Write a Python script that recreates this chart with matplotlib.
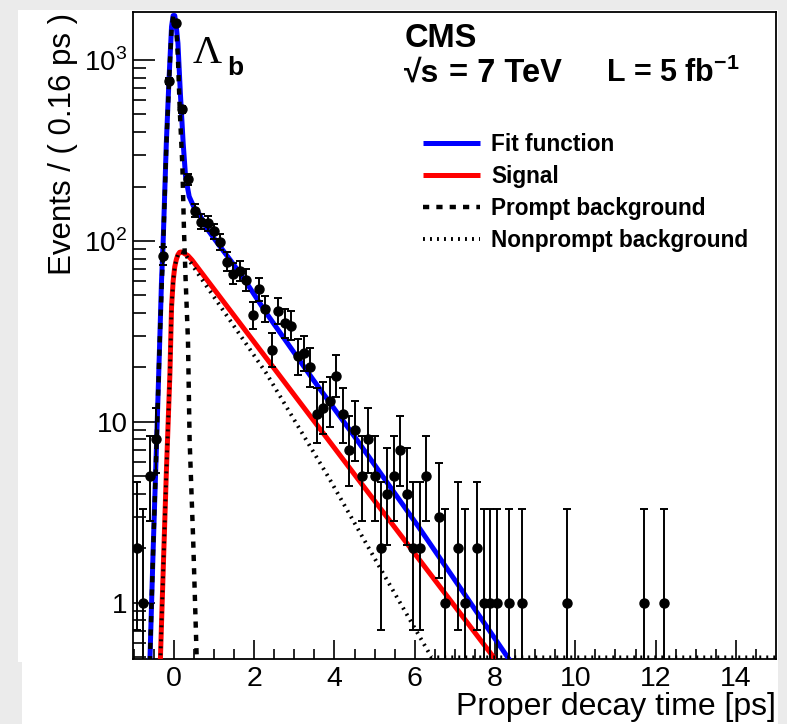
import matplotlib.pyplot as plt
import matplotlib.patches as mpatches
from matplotlib.ticker import FixedLocator, NullFormatter

plt.rcParams['font.family'] = ['Liberation Sans', 'DejaVu Sans']
plt.rcParams['mathtext.fontset'] = 'custom'
plt.rcParams['mathtext.rm'] = 'Liberation Sans'
plt.rcParams['mathtext.bf'] = 'Liberation Sans:bold'

# binned data (bin width 0.16 ps), Poisson error bars
t_data = [-0.92, -0.76, -0.60, -0.44, -0.28, -0.12,
          0.04, 0.20, 0.36, 0.52, 0.68, 0.84, 1.00, 1.16, 1.32, 1.48, 1.64,
          1.80, 1.96, 2.12, 2.28, 2.44, 2.60, 2.76, 2.92, 3.08, 3.24, 3.40,
          3.56, 3.72, 3.88, 4.04, 4.20, 4.36, 4.52, 4.68, 4.84, 5.00, 5.16,
          5.32, 5.48, 5.64, 5.80, 5.96, 6.12, 6.28,
          6.60, 6.76, 7.08, 7.24, 7.56, 7.72, 7.88, 8.04, 8.36, 8.68, 9.80,
          11.72, 12.20]
n_data = [2, 1, 5, 8, 83, 765,
          1607, 534, 219, 147, 128, 125, 113, 99, 77, 66, 68,
          61, 39, 54, 42, 25, 41, 35, 34, 23, 24, 20,
          11, 12, 13, 18, 11, 7, 9, 5, 8, 5, 2,
          4, 5, 7, 4, 2, 2, 5,
          3, 1, 2, 1, 2, 1, 1, 1, 1, 1, 1,
          1, 1]
err_lo = [1.29, 0.83, 2.16, 2.77, 9.1, 27.7,
          40.1, 23.1, 14.8, 12.1, 11.3, 11.2, 10.6, 9.9, 8.8, 8.1, 8.2,
          7.8, 6.2, 7.3, 6.5, 5.0, 6.4, 5.9, 5.8, 4.8, 4.9, 4.4,
          3.3, 3.4, 3.6, 4.2, 3.3, 2.6, 2.9, 2.16, 2.77, 2.16, 1.29,
          1.91, 2.16, 2.6, 1.91, 1.29, 1.29, 2.16,
          1.63, 0.83, 1.29, 0.83, 1.29, 0.83, 0.83, 0.83, 0.83, 0.83, 0.83,
          0.83, 0.83]
err_hi = [2.64, 2.30, 3.38, 3.95, 10.1, 28.7,
          41.1, 24.1, 15.8, 13.1, 12.3, 12.2, 11.6, 10.9, 9.8, 9.1, 9.3,
          8.8, 7.3, 8.4, 7.5, 6.1, 7.4, 7.0, 6.9, 5.9, 6.0, 5.5,
          4.4, 4.6, 4.7, 5.3, 4.4, 3.8, 4.1, 3.38, 3.95, 3.38, 2.64,
          3.16, 3.38, 3.8, 3.16, 2.64, 2.64, 3.38,
          2.92, 2.30, 2.64, 2.30, 2.64, 2.30, 2.30, 2.30, 2.30, 2.30, 2.30,
          2.30, 2.30]

# fit curves
fit_t = [-0.60, -0.52, -0.43, -0.35, -0.31, -0.27, -0.19, -0.12, -0.06, -0.02,
         0.02, 0.06, 0.10, 0.16, 0.23, 0.29, 0.38, 0.52, 0.64, 0.81, 1.09,
         1.47, 1.76, 2.30, 3.47, 4.50, 6.09, 8.40]
fit_y = [0.47, 1.9, 8, 30, 60, 97, 347, 809, 1528, 1760,
         1760, 1520, 1236, 655, 347, 227, 176, 150, 140, 118, 97,
         75, 61, 40, 17.1, 8.3, 2.64, 0.47]

sig_t = [-0.34, -0.27, -0.19, -0.10, -0.06, -0.02, 0.02, 0.06, 0.10, 0.14,
         0.18, 0.22, 0.27, 0.35, 0.45, 0.64, 2.72, 4.66, 8.06]
sig_y = [0.47, 1.46, 5.2, 18.6, 43, 60, 72, 79, 84, 86.5,
         87, 86.5, 85, 83, 78.5, 69, 17, 4.6, 0.47]

prompt_t = [-0.60, -0.52, -0.43, -0.35, -0.27, -0.19, -0.12, -0.06, -0.02, 0.02,
            0.06, 0.10, 0.145, 0.21, 0.25, 0.29, 0.35, 0.39, 0.48, 0.57]
prompt_y = [0.47, 1.9, 8, 30, 92, 335, 780, 1480, 1740, 1740,
            1480, 1020, 530, 260, 115, 62, 28, 8, 2.2, 0.47]

# nonprompt curve; past ~6.4 ps it runs along the axis floor
nonprompt_t = [-0.34, -0.27, -0.19, -0.10, -0.06, -0.02, 0.02, 0.06, 0.10, 0.14,
               0.18, 0.22, 0.27, 0.64, 2.30, 3.84, 5.21, 6.42, 15.0]
nonprompt_y = [0.47, 1.46, 5.2, 18.6, 43, 60, 72, 79, 84, 86.5,
               87, 86.5, 85, 64, 18.6, 5.0, 1.46, 0.5, 0.5]

fig = plt.figure(figsize=(7.87, 7.24), dpi=100)
fig.patch.set_facecolor('white')

# grey photo-like margins (pixel boxes measured from the top-left corner)
W, H = 787.0, 724.0
grey = '#ebebeb'
for (x0, y0, w, h) in [(0, 0, 18, 662), (0, 662, 22, 62), (0, 0, 787, 10),
                       (778, 0, 9, 724)]:
    fig.patches.append(mpatches.Rectangle((x0 / W, 1 - (y0 + h) / H),
                                          w / W, h / H,
                                          transform=fig.transFigure,
                                          facecolor=grey, edgecolor='none',
                                          zorder=0))

ax = fig.add_axes([133 / W, 1 - 659 / H, (776 - 133) / W, (659 - 12) / H])
ax.set_yscale('log')

yerr = [err_lo, err_hi]
ax.errorbar(t_data, n_data, yerr=yerr, fmt='o', color='black',
            markersize=6.5, elinewidth=1.4, capsize=2.6, capthick=1.4,
            zorder=6)

l_fit, = ax.plot(fit_t, fit_y, color='#0000ff', lw=3.6, zorder=3,
                 solid_capstyle='butt', label='Fit function')
l_sig, = ax.plot(sig_t, sig_y, color='#ff0000', lw=3.6, zorder=3,
                 solid_capstyle='butt', label='Signal')
l_pr, = ax.plot(prompt_t, prompt_y, color='black', lw=3.2, zorder=4,
                linestyle=(0, (1.4, 1.6)), dash_capstyle='butt',
                label='Prompt background')
l_np, = ax.plot(nonprompt_t, nonprompt_y, color='black', lw=2.8, zorder=4,
                linestyle=(0, (0.5, 1.3)), dash_capstyle='butt',
                label='Nonprompt background')

ax.set_xlim(-1.02, 15.0)
ax.set_ylim(0.49, 1842)

ax.xaxis.set_major_locator(FixedLocator([0, 2, 4, 6, 8, 10, 12, 14]))
ax.xaxis.set_minor_locator(FixedLocator([x * 0.5 for x in range(-2, 30)]))
ax.set_xticklabels(['0', '2', '4', '6', '8', '10', '12', '14'])
ax.set_yticks([1, 10, 100, 1000])
ax.set_yticklabels(['1', '10', '$10^{2}$', '$10^{3}$'])
ax.yaxis.set_minor_formatter(NullFormatter())

ax.tick_params(axis='both', which='both', direction='in', width=1.2,
               colors='black', top=False, right=False)
ax.tick_params(axis='x', which='major', length=14, labelsize=20.5, pad=5)
ax.tick_params(axis='x', which='minor', length=7)
ax.tick_params(axis='y', which='major', length=16, labelsize=20, pad=4)
ax.tick_params(axis='y', which='minor', length=9)
for s in ax.spines.values():
    s.set_linewidth(1.3)

fig.text(776 / W, 1 - 707 / H, 'Proper decay time [ps]', ha='right',
         va='center', fontsize=23)
fig.text(63 / W, 1 - 13 / H, 'Events / ( 0.16 ps )', ha='center', va='top',
         rotation=90, fontsize=22.5)

# Lambda_b label
fig.text(193 / W, 1 - 63 / H, '\u039b', family=['Liberation Serif'],
         fontsize=29, ha='left', va='baseline')
fig.text(227 / W, 1 - 75 / H, 'b', fontsize=19, fontweight='bold',
         ha='left', va='baseline')

fig.text(405 / W, 1 - 47 / H, 'CMS', fontsize=23.5, fontweight='bold',
         ha='left', va='baseline')
fig.text(404 / W, 1 - 82 / H, '\u221as', fontsize=23, fontweight='bold',
         ha='left', va='baseline')
fig.text(449 / W, 1 - 82 / H, '= 7 TeV', fontsize=23.5, fontweight='bold',
         ha='left', va='baseline')
fig.text(606 / W, 1 - 82 / H, 'L = 5 fb$^{\\mathbf{-1}}$', fontsize=22,
         fontweight='bold', ha='left', va='baseline')

leg = ax.legend(handles=[l_fit, l_sig, l_pr, l_np], loc='upper left',
                bbox_to_anchor=(423 / W, 1 - 133 / H),
                bbox_transform=fig.transFigure, frameon=False,
                prop={'weight': 'bold', 'size': 16.3}, handlelength=2.5,
                handletextpad=0.5, labelspacing=0.4, borderpad=0,
                borderaxespad=0)

fig.savefig('out.png', dpi=100, facecolor=fig.get_facecolor())
